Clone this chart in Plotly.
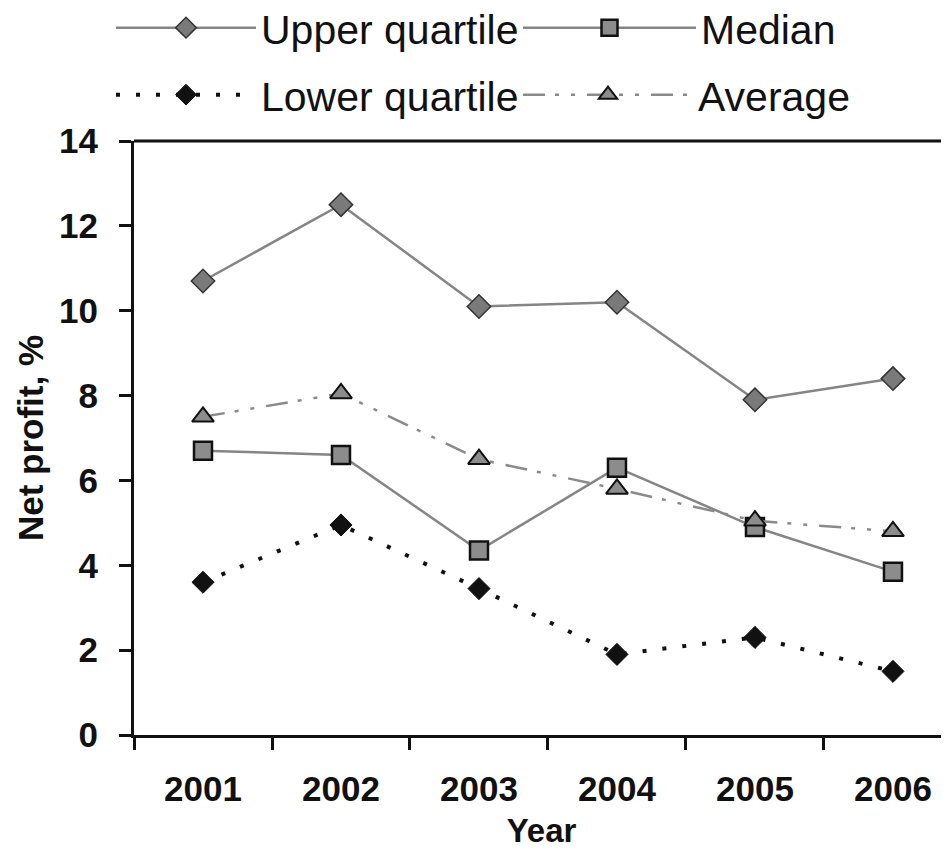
import plotly.graph_objects as go

years = ["2001", "2002", "2003", "2004", "2005", "2006"]
upper_quartile = [10.7, 12.5, 10.1, 10.2, 7.9, 8.4]
median = [6.7, 6.6, 4.35, 6.3, 4.9, 3.85]
lower_quartile = [3.6, 4.95, 3.45, 1.9, 2.3, 1.5]
average = [7.5, 8.05, 6.5, 5.8, 5.05, 4.8]
y_ticks = [0, 2, 4, 6, 8, 10, 12, 14]

FONT = "Liberation Sans, Arial, sans-serif"
W, H = 941, 841  # page body has an 8px margin

fig = go.Figure()
fig.add_trace(go.Scatter(
    x=years, y=upper_quartile, name="Upper quartile", mode="lines+markers",
    line=dict(color="#858585", width=2.5),
    marker=dict(symbol="diamond", size=18, color="#7a7a7a", line=dict(color="#333333", width=1.5)),
    legend="legend",
))
fig.add_trace(go.Scatter(
    x=years, y=median, name="Median", mode="lines+markers",
    line=dict(color="#858585", width=2.5),
    marker=dict(symbol="square", size=18, color="#8c8c8c", line=dict(color="#111111", width=2.5)),
    legend="legend2",
))
fig.add_trace(go.Scatter(
    x=years, y=lower_quartile, name="Lower quartile", mode="lines+markers",
    line=dict(color="#111111", width=4, dash="4px,16px"),
    marker=dict(symbol="diamond", size=17, color="#111111", line=dict(color="#111111", width=1)),
    legend="legend3",
))
fig.add_trace(go.Scatter(
    x=years, y=average, name="Average", mode="lines+markers",
    line=dict(color="#8a8a8a", width=2.5, dash="22px,10px,4px,12px,4px,12px"),
    marker=dict(symbol="triangle-up", size=19, color="#8c8c8c", line=dict(color="#111111", width=2)),
    legend="legend4",
))

def leg(x_px, y_px, itemwidth):
    return dict(
        orientation="h", xref="container", yref="container", xanchor="left", yanchor="middle",
        x=(x_px - 8) / W, y=1 - (y_px - 8) / H,
        font=dict(family=FONT, size=41, color="#111111"), itemwidth=itemwidth,
        bgcolor="rgba(0,0,0,0)", itemclick=False,
    )

fig.update_layout(
    width=W, height=H,
    margin=dict(l=126, r=0, t=133, b=114, autoexpand=False),
    paper_bgcolor="white", plot_bgcolor="white",
    font=dict(family=FONT, color="#111111"),
    showlegend=True,
    legend=leg(111, 28, 140),
    legend2=leg(518, 28, 173),
    legend3=leg(111, 95, 140),
    legend4=leg(518, 95, 170),
    xaxis=dict(
        type="category", range=[-0.5, 5.406], tickson="boundaries",
        showline=True, linecolor="#111111", linewidth=3,
        ticks="outside", ticklen=12, tickwidth=2.5, tickcolor="#111111",
        tickfont=dict(family=FONT, size=35, weight="bold"), ticklabelstandoff=21,
        showgrid=False, zeroline=False,
        title=dict(text="Year", font=dict(family=FONT, size=33, weight="bold"), standoff=12),
    ),
    yaxis=dict(
        range=[0, 14], tickvals=y_ticks,
        showline=True, linecolor="#111111", linewidth=3,
        ticks="outside", ticklen=12, tickwidth=2.5, tickcolor="#111111",
        tickfont=dict(family=FONT, size=35, weight="bold"), ticklabelstandoff=14,
        showgrid=False, zeroline=False,
        title=dict(text="Net profit, %", font=dict(family=FONT, size=35, weight="bold"), standoff=5),
    ),
    shapes=[dict(type="line", xref="paper", yref="paper", x0=0, x1=1, y0=1, y1=1,
                 line=dict(color="#111111", width=3))],
)

fig.write_html("out.html")
